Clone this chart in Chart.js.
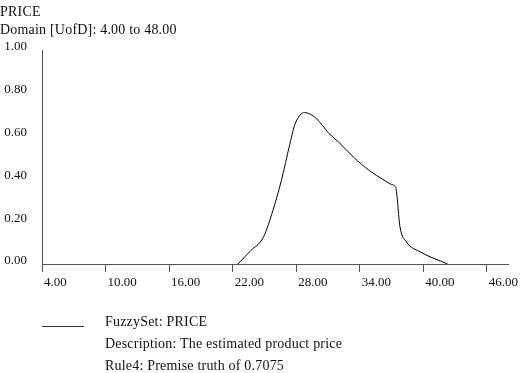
<!DOCTYPE html>
<html>
<head>
<meta charset="utf-8">
<script src="https://cdn.jsdelivr.net/npm/chart.js@4"></script>
<style>
  html, body { margin: 0; padding: 0; background: #fff; }
  #wrap { position: relative; width: 522px; height: 373px; overflow: hidden; }
  canvas { position: absolute; left: 0; top: 0; }
  .t { position: absolute; font-family: "Liberation Serif", serif; color: #111; white-space: nowrap; line-height: 16px; font-size: 14px; letter-spacing: 0.2px; }
  #legline { position: absolute; left: 42px; top: 326px; width: 42px; height: 0; border-top: 1px solid #333; }
</style>
</head>
<body>
<div id="wrap">
  <canvas id="c" width="522" height="373"></canvas>
  <div class="t" style="left:0px; top:4px;">PRICE</div>
  <div class="t" style="left:0px; top:22px;">Domain [UofD]: 4.00 to 48.00</div>
  <div id="legline"></div>
  <div class="t" style="left:105px; top:314px;">FuzzySet: PRICE</div>
  <div class="t" style="left:105px; top:336px;">Description: The estimated product price</div>
  <div class="t" style="left:105px; top:358px;">Rule4: Premise truth of 0.7075</div>
</div>
<script>
const xTicks = [4, 10, 16, 22, 28, 34, 40, 46];
const yTicks = [0, 0.2, 0.4, 0.6, 0.8, 1.0];
const priceX = [22.5, 23.7, 24.9, 25.8, 26.6, 27.4, 27.9, 28.8, 29.9, 31.1, 32.0, 33.4, 34.9, 36.3, 37.0, 37.4, 37.8, 38.4, 39.7, 42.3];
const priceY = [0, 0.062, 0.125, 0.25, 0.39, 0.56, 0.655, 0.7075, 0.68, 0.61, 0.57, 0.50, 0.437, 0.392, 0.372, 0.357, 0.174, 0.104, 0.057, 0];

const tickFont = { family: "Liberation Serif", size: 13 };
const axisColor = '#555';

new Chart(document.getElementById('c'), {
  type: 'line',
  data: {
    datasets: [{
      label: 'PRICE',
      data: priceX.map((x, i) => ({ x: x, y: priceY[i] })),
      borderColor: '#000',
      borderWidth: 1,
      pointRadius: 0,
      fill: false,
      cubicInterpolationMode: 'monotone'
    }]
  },
  options: {
    responsive: false,
    animation: false,
    layout: { padding: { left: 0, top: 50, right: 14, bottom: 79 } },
    plugins: { legend: { display: false }, tooltip: { enabled: false } },
    scales: {
      x: {
        type: 'linear',
        min: 4, max: 48,
        afterBuildTicks: s => { s.ticks = xTicks.map(v => ({ value: v })); },
        afterFit: s => { s.height = 30; },
        ticks: {
          align: 'start', labelOffset: 2, padding: 3, maxRotation: 0, autoSkip: false,
          font: tickFont, color: '#111',
          callback: v => Number(v).toFixed(2)
        },
        grid: { display: true, drawOnChartArea: false, drawTicks: true, tickLength: 8, color: axisColor },
        border: { display: true, color: axisColor, width: 1 }
      },
      y: {
        type: 'linear',
        min: 0, max: 1,
        afterBuildTicks: s => { s.ticks = yTicks.map(v => ({ value: v })); },
        afterFit: s => { s.width = 42; },
        ticks: {
          padding: 7, labelOffset: -3, font: tickFont, color: '#111',
          callback: v => Number(v).toFixed(2)
        },
        grid: { display: false },
        border: { display: true, color: axisColor, width: 1 }
      }
    }
  }
});
</script>
</body>
</html>
